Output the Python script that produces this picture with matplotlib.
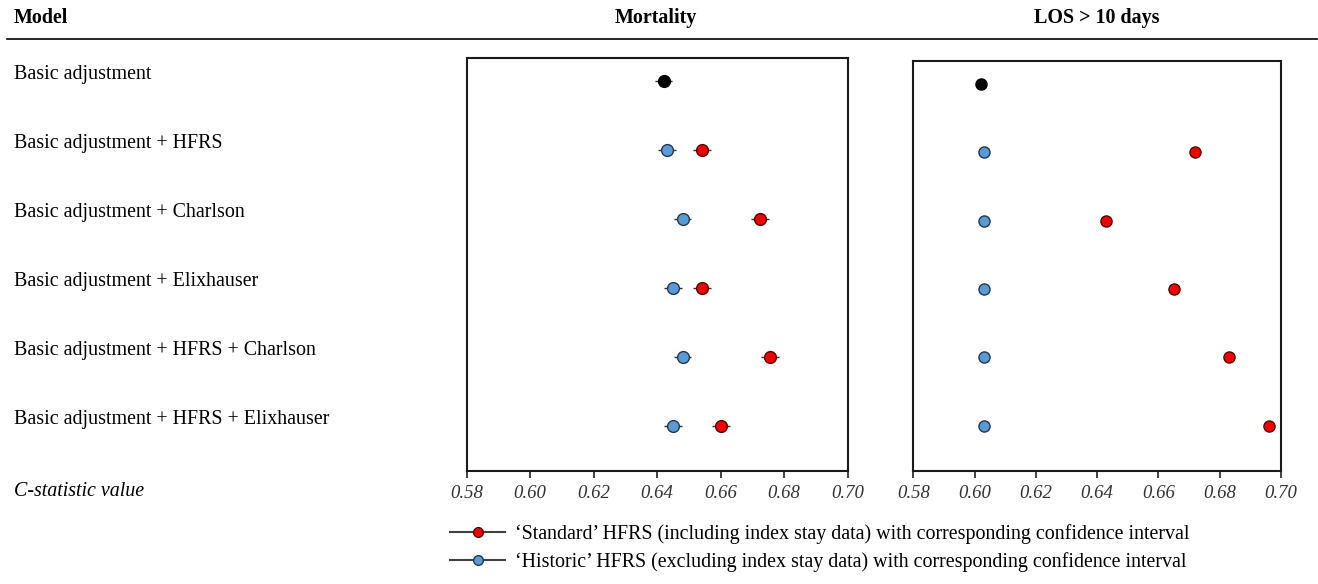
import numpy as np
import matplotlib
matplotlib.use("Agg")
from matplotlib import pyplot as plt
from matplotlib.lines import Line2D
from matplotlib.transforms import blended_transform_factory

# DATA
models = [
    "Basic adjustment",
    "Basic adjustment + HFRS",
    "Basic adjustment + Charlson",
    "Basic adjustment + Elixhauser",
    "Basic adjustment + HFRS + Charlson",
    "Basic adjustment + HFRS + Elixhauser",
]
panel_titles = ["Mortality", "LOS > 10 days"]
xticks = [0.58, 0.60, 0.62, 0.64, 0.66, 0.68, 0.70]

# basic adjustment only (row 0)
mort_basic = 0.642
mort_basic_ci = 0.0028
los_basic = 0.602
los_basic_ci = 0.0015

# rows 1..5
mort_standard = [0.654, 0.6725, 0.654, 0.6755, 0.660]
mort_standard_ci = [0.0028, 0.0028, 0.0028, 0.0028, 0.0028]
mort_historic = [0.643, 0.648, 0.645, 0.648, 0.645]
mort_historic_ci = [0.0028, 0.0028, 0.0028, 0.0028, 0.0028]

los_standard = [0.672, 0.643, 0.665, 0.683, 0.696]
los_standard_ci = [0.001, 0.001, 0.001, 0.001, 0.001]
los_historic = [0.603, 0.603, 0.603, 0.603, 0.603]
los_historic_ci = [0.001, 0.001, 0.001, 0.001, 0.001]

legend_labels = [
    "\u2018Standard\u2019 HFRS (including index stay data) with corresponding confidence interval",
    "\u2018Historic\u2019 HFRS (excluding index stay data) with corresponding confidence interval",
]

##################################
# STYLE
##################################
plt.rcParams['font.family'] = ['Liberation Serif', 'DejaVu Serif']
RED = '#ee0000'
RED_EDGE = '#5a0000'
BLUE = '#5b9bd5'
BLUE_EDGE = '#22384f'
FS = 14.4

W, H = 1318, 584
fig = plt.figure(figsize=(W / 100, H / 100), dpi=100, facecolor='w')

ax_mort = fig.add_axes([466.7 / W, 1 - 471 / H, 381 / W, 413 / H])
ax_los = fig.add_axes([913.3 / W, 1 - 471 / H, 367.7 / W, 410 / H])

panels = [
    (ax_mort, mort_basic, mort_basic_ci, mort_standard, mort_standard_ci, mort_historic, mort_historic_ci, 8.5),
    (ax_los, los_basic, los_basic_ci, los_standard, los_standard_ci, los_historic, los_historic_ci, 8),
]

rows = np.arange(1, len(models))

for ax, basic, basic_ci, std, std_ci, hist, hist_ci, ms in panels:
    ax.errorbar([basic], [0], xerr=[basic_ci], fmt='o', color='black', ecolor='#303030',
                elinewidth=1.0, markersize=ms, mec='black', zorder=3)
    ax.errorbar(hist, rows, xerr=hist_ci, fmt='o', color=BLUE, ecolor='#303030',
                elinewidth=1.0, markersize=ms, mec=BLUE_EDGE, mew=1, zorder=3)
    ax.errorbar(std, rows, xerr=std_ci, fmt='o', color=RED, ecolor='#303030',
                elinewidth=1.0, markersize=ms, mec=RED_EDGE, mew=1, zorder=3)

    ax.set_xlim(0.58, 0.70)
    ax.set_ylim(5.66, -0.335)
    ax.set_yticks([])
    ax.set_xticks(xticks)
    ax.set_xticklabels([f"{t:.2f}" for t in xticks], fontstyle='italic', fontsize=13.5, color='#333333')
    ax.tick_params(axis='x', direction='out', length=5, width=1.2, pad=5, color='#222222')
    for s in ax.spines.values():
        s.set_linewidth(1.5)
        s.set_color('#1a1a1a')

##################################
# TEXT / TABLE
##################################
fig.text(14 / W, 1 - 18 / H, "Model", fontsize=FS, fontweight='bold', va='center', ha='left')
fig.text(656 / W, 1 - 18 / H, panel_titles[0], fontsize=FS, fontweight='bold', va='center', ha='center')
fig.text(1097 / W, 1 - 18 / H, panel_titles[1], fontsize=FS, fontweight='bold', va='center', ha='center')
fig.add_artist(Line2D([7 / W, 1 - 1 / W], [1 - 39 / H, 1 - 39 / H], color='black', lw=1.2))

trans = blended_transform_factory(fig.transFigure, ax_mort.transData)
for i, m in enumerate(models):
    ax_mort.text(14 / W, i - 0.09, m, transform=trans, fontsize=FS, va='center', ha='left', clip_on=False)

fig.text(14 / W, 1 - 492 / H, "C-statistic value", fontsize=FS, fontstyle='italic', va='center', ha='left')

# legend
handles = [
    Line2D([], [], color='#404040', lw=1.5, marker='o', markersize=7, mfc=RED, mec=RED_EDGE),
    Line2D([], [], color='#404040', lw=1.5, marker='o', markersize=7, mfc=BLUE, mec=BLUE_EDGE),
]
fig.legend(handles, legend_labels, loc='upper left', bbox_to_anchor=(450 / W, 1 - 524 / H),
           frameon=False, fontsize=FS, handlelength=2.75, handletextpad=0.5, labelspacing=0.42,
           borderaxespad=0, borderpad=0)

fig.savefig("out.png", dpi=100, facecolor='w')
